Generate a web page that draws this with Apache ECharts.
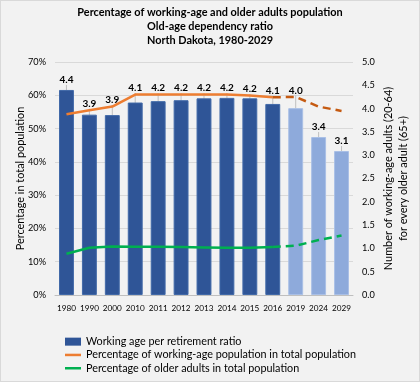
<!DOCTYPE html>
<html><head><meta charset="utf-8">
<script src="https://cdn.jsdelivr.net/npm/echarts@6/dist/echarts.min.js"></script>
<style>
html,body{margin:0;padding:0;background:#f2f2f2;}
#c{width:420px;height:382px;box-sizing:border-box;border:1px solid #d9d9d9;background:#f2f2f2;}
</style></head><body><div id="c"></div>
<script>
const categories = ['1980','1990','2000','2010','2011','2012','2013','2014','2015','2016','2019','2024','2029'];
const ratio = [4.40,3.87,3.86,4.13,4.16,4.18,4.22,4.23,4.22,4.10,4.01,3.39,3.09];
const workingAgePct = [54.3,55.5,56.6,60.2,60.2,60.2,60.2,60.2,59.9,59.4,59.5,56.6,55.3];
const olderAdultPct = [12.4,14.2,14.6,14.5,14.5,14.4,14.3,14.2,14.2,14.4,14.8,16.5,17.9];
const leftTicks = [0,10,20,30,40,50,60,70];
const rightTicks = [0,0.5,1,1.5,2,2.5,3,3.5,4,4.5,5];
const lastActual = '2016';

const titleLines = ['Percentage of working-age and older adults population','Old-age dependency ratio','North Dakota, 1980-2029'];
const seriesNames = ['Working age per retirement ratio','Percentage of working-age population in total population','Percentage of older adults in total population'];
const leftName = 'Percentage in total population';
const rightName = ['Number of working-age adults (20-64)','for every older adult (65+)'];

const FONT = 'Lato';
const cv = document.createElement('canvas').getContext('2d');
function fit(text, target, weight){
  cv.font = (weight||'normal') + ' 100px ' + FONT;
  return Math.round(target / cv.measureText(text).width * 1000)/10;
}
const fsTitle = fit(titleLines[0], 266, 'bold');
const fsLegend = fit(seriesNames[1], 271);
const fsX = fit('1980', 19);
const fsY = fit('70%', 18);
const fsBar = fit('4.2', 14, 'bold');
const fsName = fit(leftName, 143);

const cut = categories.indexOf(lastActual);
const solidPart = arr => arr.map((v,i)=> i<=cut ? v : '-');
const dashPart = arr => arr.map((v,i)=> i>=cut ? v : '-');

const chart = echarts.init(document.getElementById('c'));
const barData = ratio.map((v,i)=>({
  value:v,
  itemStyle:{color: i>cut ? '#8eaadb' : '#2f5597', borderColor: i>cut ? '#a9bfe6' : '#4169a8', borderWidth:1}
}));
const lineIcon = 'path://M0,0H16V2.5H0Z';

chart.setOption({
  backgroundColor:'#f2f2f2',
  animation:false,
  textStyle:{fontFamily:FONT},
  title:{
    text:titleLines.join('\n'),
    left:'center', top:4, padding:0,
    textStyle:{fontFamily:FONT,fontSize:fsTitle,fontWeight:'bold',color:'#000',lineHeight:14}
  },
  legend:{
    orient:'vertical', left:64, top:334, itemGap:0, itemWidth:16, itemHeight:8, padding:0,
    textStyle:{fontFamily:FONT,fontSize:fsLegend,color:'#000',lineHeight:13.3},
    data:[
      {name:seriesNames[0], icon:'rect'},
      {name:seriesNames[1], icon:lineIcon},
      {name:seriesNames[2], icon:lineIcon}
    ]
  },
  grid:{left:54, right:64, top:61, bottom:86},
  xAxis:{
    type:'category', data:categories,
    axisTick:{show:false},
    axisLine:{lineStyle:{color:'#bfbfbf'}},
    axisLabel:{color:'#000',fontSize:fsX,fontFamily:FONT,margin:9,interval:0}
  },
  yAxis:[
    {type:'value', min:leftTicks[0], max:leftTicks[leftTicks.length-1], interval:10,
     name:leftName, nameLocation:'middle', nameRotate:90, nameGap:29, nameMoveOverlap:false,
     nameTextStyle:{fontFamily:FONT,fontSize:fsName,color:'#000'},
     axisLabel:{formatter:'{value}%',color:'#000',fontSize:fsY,fontFamily:FONT,margin:9},
     splitLine:{lineStyle:{color:'#d9d9d9'}}, axisLine:{show:false}, axisTick:{show:false}},
    {type:'value', min:rightTicks[0], max:rightTicks[rightTicks.length-1], interval:0.5,
     name:rightName.join('\n'), nameLocation:'middle', nameRotate:90, nameGap:28, nameMoveOverlap:false,
     nameTextStyle:{fontFamily:FONT,fontSize:fsName,color:'#000',lineHeight:15},
     axisLabel:{formatter:v=>v.toFixed(1),color:'#000',fontSize:fsY,fontFamily:FONT,margin:9},
     splitLine:{show:false}, axisLine:{show:false}, axisTick:{show:false}}
  ],
  series:[
    {name:seriesNames[0], type:'bar', yAxisIndex:1, data:barData, barWidth:'65%',
     itemStyle:{color:'#2f5597'},
     label:{show:true, position:'top', distance:5, formatter:p=>p.value.toFixed(1),
            fontFamily:FONT, fontWeight:'bold', fontSize:fsBar, color:'#000'},
     labelLine:{show:true, showAbove:false, lineStyle:{color:'#bfbfbf',width:1}},
     labelLayout:function(p){
       const i=p.dataIndex;
       try{
         const ly = chart.convertToPixel({yAxisIndex:0}, workingAgePct[i]);
         const barTop = p.rect.y;
         const lr = p.labelRect;
         if (ly < barTop && ly > lr.y - 4) {
           const targetCenter = ly - 6.5;
           return {dy: targetCenter - (lr.y + lr.height/2)};
         }
       }catch(e){}
       return {};
     },
     z:1},
    {name:seriesNames[1], type:'line', yAxisIndex:0,
     data:solidPart(workingAgePct), symbol:'none', color:'#ed7d31', lineStyle:{width:2.5,color:'#ed7d31'}, z:3},
    {name:'wa-proj', type:'line', yAxisIndex:0, data:dashPart(workingAgePct), symbol:'none',
     lineStyle:{width:2.5,color:'#c55a11',type:[8,5]}, z:3},
    {name:seriesNames[2], type:'line', yAxisIndex:0,
     data:solidPart(olderAdultPct), symbol:'none', color:'#00b050', lineStyle:{width:2.5,color:'#00b050'}, z:3},
    {name:'oa-proj', type:'line', yAxisIndex:0, data:dashPart(olderAdultPct), symbol:'none',
     lineStyle:{width:2.5,color:'#00b050',type:[8,5]}, z:3}
  ]
});
</script></body></html>
